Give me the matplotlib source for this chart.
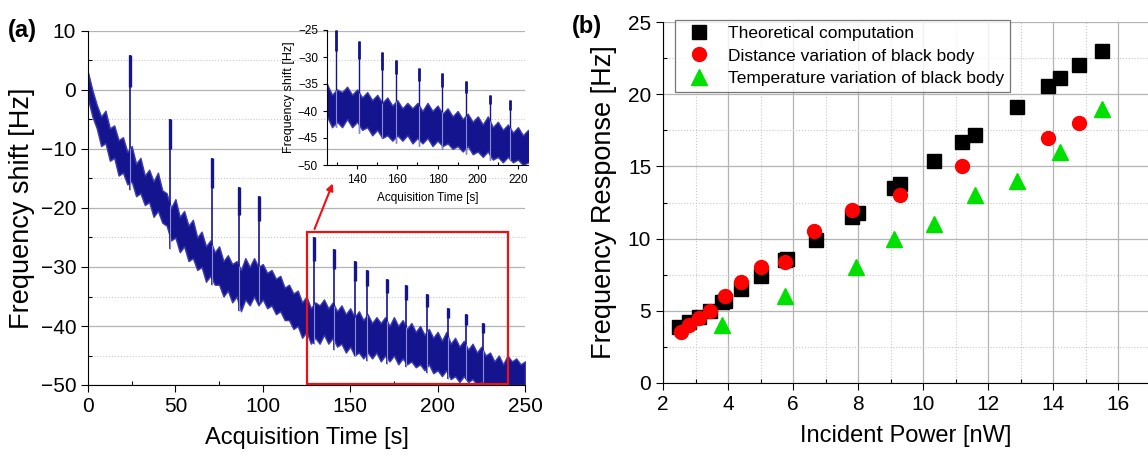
import numpy as np
import matplotlib
matplotlib.use("Agg")
import matplotlib.pyplot as plt
from matplotlib.ticker import MultipleLocator

plt.rcParams['font.family'] = ['Liberation Sans', 'DejaVu Sans']

time_s = np.arange(0, 250.1, 2.5)
band_top = [3, 0, -2.5, -4.5, -3.5, -6.5, -6, -8.5, -8, -10.5,
            -9.5, -12.5, -11.5, -14.5, -13.5, -15.5, -14, -17, -17.5, -20,
            -18.5, -21.5, -20.5, -23, -22, -25, -24, -26.5, -25.5, -27.5,
            -26.5, -29, -28, -29.5, -29, -30.5, -28.5, -30, -28.5, -30,
            -29.5, -31, -30.5, -32, -31.5, -33.5, -33, -34.5, -34, -36,
            -35, -37, -36, -36.5, -35.5, -37, -36, -37.5, -36.5, -38,
            -37, -38.5, -37.5, -39, -38, -39.5, -38.5, -39.5, -38.5, -40,
            -38.5, -40, -39, -40.5, -39.5, -41, -40, -41.5, -40.5, -42,
            -41, -42.5, -41, -43, -42, -43.5, -42.5, -44, -43, -44.5,
            -43.5, -45, -44.5, -46, -45, -46.5, -45, -46, -45.5, -46.5,
            -46]
band_bottom = [-1.5, -4.5, -6.5, -9.5, -9, -12, -11.5, -14.5, -14, -16,
               -15.5, -18, -17.5, -19.5, -19, -21.5, -20.5, -22.5, -23, -25.5,
               -25, -27.5, -26.5, -29, -28.5, -30.5, -30, -32.5, -31.5, -33,
               -33, -35, -34, -36, -35, -37.5, -35.5, -36.5, -35, -36.5,
               -35.5, -37, -36.5, -38, -37.5, -39, -39, -40.5, -40, -42,
               -41, -43, -42, -43, -41.5, -43, -42, -43.5, -43, -44.5,
               -43.5, -45, -44.5, -45.5, -44.5, -45.5, -44.5, -46, -45, -46,
               -45, -46.5, -45.5, -46.5, -46, -47, -46.5, -47.5, -46.5, -48,
               -47.5, -48.5, -47.5, -49, -48.5, -49.5, -48.5, -49.5, -49, -50,
               -49.5, -50, -50, -50, -50, -50, -50, -50, -50, -50,
               -50]
spike_t = [24, 47, 71, 86.5, 98, 129.5, 141, 152.5, 159.5, 171, 182, 194, 206, 216, 226]
spike_peak = [6, -5, -11.5, -16.5, -18, -25, -27, -29, -30.5, -32, -33, -34.5, -37, -38, -39.5]
spike_low = [-17, -27, -33, -37.5, -36, -43, -44, -45, -46, -46.5, -47, -48, -49, -49, -49.5]

# ---- panel (b): frequency response vs incident power
theo_x = [2.5, 2.8, 3.1, 3.45, 3.8, 3.9, 4.4, 5.0, 5.75, 5.8, 6.7, 7.8, 8.0,
          9.1, 9.3, 10.35, 11.2, 11.6, 12.9, 13.85, 14.2, 14.8, 15.5]
theo_y = [3.9, 4.2, 4.6, 5.0, 5.6, 5.7, 6.5, 7.4, 8.5, 8.6, 9.9, 11.5, 11.8,
          13.5, 13.8, 15.4, 16.7, 17.2, 19.1, 20.6, 21.1, 22.0, 23.0]
dist_x = [2.55, 2.8, 3.1, 3.45, 3.9, 4.4, 5.0, 5.75, 6.65, 7.8, 9.3, 11.2, 13.85, 14.8]
dist_y = [3.5, 4.0, 4.5, 5.0, 6.0, 7.0, 8.0, 8.4, 10.5, 12.0, 13.0, 15.0, 17.0, 18.0]
temp_x = [3.8, 5.75, 7.95, 9.1, 10.35, 11.6, 12.9, 14.2, 15.5]
temp_y = [4.0, 6.0, 8.0, 10.0, 11.0, 13.0, 14.0, 16.0, 19.0]

navy = '#14148f'
light = '#8a8ad6'


def draw_signal(ax, lw_spike):
    ax.fill_between(time_s, band_bottom, band_top, color=navy, lw=1.0,
                    edgecolor='#3c3cb0', zorder=2)
    tops = np.interp(spike_t, time_s, band_top)
    ax.vlines(spike_t, spike_low, spike_peak, color=navy, lw=lw_spike, zorder=3)
    # thicker upper part of each spike
    thick_end = [p - 0.35 * (p - t) for p, t in zip(spike_peak, tops)]
    ax.vlines(spike_t, thick_end, spike_peak, color=navy, lw=lw_spike * 2, zorder=3)
    ax.vlines(spike_t, spike_low, tops, color=light, lw=0.8, zorder=4)


def style_ticks(ax, size):
    ax.tick_params(which='major', direction='out', length=5, width=0.8, labelsize=size)
    ax.tick_params(which='minor', direction='in', length=3, width=0.8)
    for s in ['top', 'right']:
        ax.spines[s].set_visible(False)


fig = plt.figure(figsize=(11.48, 4.59), dpi=100)

# panel (a)
ax1 = fig.add_axes([88 / 1148, 74 / 459, 437 / 1148, 354 / 459])
draw_signal(ax1, 1.2)
ax1.set_xlim(0, 250)
ax1.set_ylim(-50, 10)
ax1.xaxis.set_major_locator(MultipleLocator(50))
ax1.xaxis.set_minor_locator(MultipleLocator(25))
ax1.yaxis.set_major_locator(MultipleLocator(10))
ax1.yaxis.set_minor_locator(MultipleLocator(5))
ax1.grid(axis='y', which='major', color='#b4b4b4', lw=0.9, zorder=0)
ax1.grid(axis='y', which='minor', color='#c8c8c8', lw=0.8, ls=':', zorder=0)
ax1.set_axisbelow(True)
style_ticks(ax1, 15)
ax1.set_xlabel('Acquisition Time [s]', fontsize=17, labelpad=8)
ax1.set_ylabel('Frequency shift [Hz]', fontsize=19.5, labelpad=4)

# zoom box and arrow
ax1.add_patch(plt.Rectangle((125, -49.8), 115, 25.8, fill=False,
                            edgecolor='#ee1111', lw=1.6, zorder=5))
ax1.annotate('', xy=(140.6, -15.4), xytext=(129, -24),
             arrowprops=dict(arrowstyle='-|>', color='#ee1111', lw=1.5,
                             mutation_scale=10), zorder=6)

# inset
axin = fig.add_axes([327 / 1148, 294 / 459, 201 / 1148, 135 / 459])
draw_signal(axin, 1.0)
axin.set_xlim(125, 225)
axin.set_ylim(-50, -25)
axin.xaxis.set_major_locator(MultipleLocator(20))
axin.xaxis.set_minor_locator(MultipleLocator(10))
axin.yaxis.set_major_locator(MultipleLocator(5))
style_ticks(axin, 8.5)
axin.tick_params(which='major', length=3)
axin.tick_params(which='minor', length=2)
axin.patch.set_alpha(0)
axin.set_xlabel('Acquisition Time [s]', fontsize=8.5, labelpad=4)
axin.set_ylabel('Frequency shift [Hz]', fontsize=9, labelpad=2)

# panel (b)
ax2 = fig.add_axes([663 / 1148, 76 / 459, 485 / 1148, 361 / 459])
ax2.plot(theo_x, theo_y, 's', color='black', ms=10, label='Theoretical computation', zorder=3)
ax2.plot(dist_x, dist_y, 'o', color='#ff0000', ms=10, label='Distance variation of black body', zorder=4)
ax2.plot(temp_x, temp_y, '^', color='#00e000', ms=11, label='Temperature variation of black body', zorder=4)
ax2.set_xlim(2, 16.92)
ax2.set_ylim(0, 25)
ax2.xaxis.set_major_locator(MultipleLocator(2))
ax2.xaxis.set_minor_locator(MultipleLocator(1))
ax2.yaxis.set_major_locator(MultipleLocator(5))
ax2.yaxis.set_minor_locator(MultipleLocator(2.5))
ax2.grid(which='major', color='#b4b4b4', lw=0.9, zorder=0)
ax2.grid(which='minor', color='#c8c8c8', lw=0.8, ls=':', zorder=0)
ax2.set_axisbelow(True)
style_ticks(ax2, 15)
ax2.set_xlabel('Incident Power [nW]', fontsize=17, labelpad=8)
ax2.set_ylabel('Frequency Response [Hz]', fontsize=19.5, labelpad=8)
leg = ax2.legend(loc='upper left', bbox_to_anchor=(0.025, 1.005), fontsize=12.5,
                 frameon=True, fancybox=False, borderpad=0.35, handletextpad=0.7,
                 labelspacing=0.4, borderaxespad=0)
leg.get_frame().set_edgecolor('#555555')
leg.get_frame().set_linewidth(0.9)

fig.text(8 / 1148, 1 - 30 / 459, '(a)', fontsize=17, fontweight='bold', va='center')
fig.text(572 / 1148, 1 - 27 / 459, '(b)', fontsize=17, fontweight='bold', va='center')

fig.savefig('out.png', dpi=100)
